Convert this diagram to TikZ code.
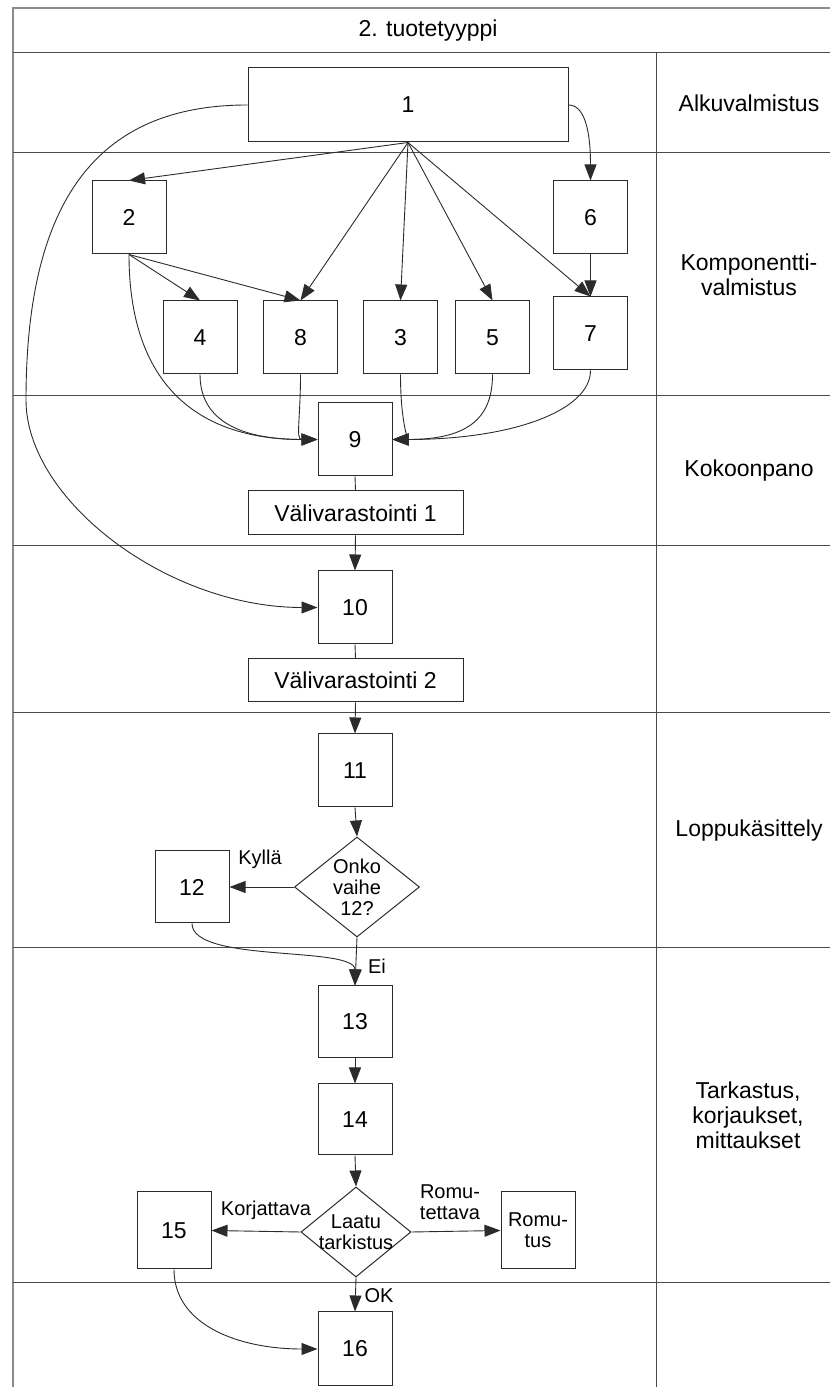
\documentclass[tikz,border=0pt]{standalone}
\usepackage{fontspec}
\setmainfont{Liberation Sans}
\usetikzlibrary{arrows.meta,shapes.geometric}

\definecolor{framegray}{HTML}{8C8C8C}
\definecolor{rulegray}{HTML}{4A4A4A}
\definecolor{ink}{HTML}{2B2B2B}

\begin{document}
\begin{tikzpicture}[x=1pt,y=1pt,
  stepbox/.style={draw=ink, fill=white, line width=1pt, minimum width=74pt,
    minimum height=73pt, inner sep=0pt, font=\fontsize{23}{26}\selectfont},
  widebox/.style={stepbox, minimum width=215pt, minimum height=44pt},
  decision/.style={diamond, draw=ink, fill=white, line width=1pt, inner sep=0pt},
  lanelabel/.style={font=\fontsize{23}{25}\selectfont, align=center, inner sep=0pt},
  small/.style={font=\fontsize{20}{21}\selectfont, align=center, inner sep=0pt},
  flow/.style={draw=ink, line width=0.9pt, -{Triangle[length=16pt,width=12pt]}},
  link/.style={draw=ink, line width=0.9pt},
]
\useasboundingbox (0,0) rectangle (830,1387);

% swimlane grid
\draw[framegray, line width=1.3pt] (830,1379) -- (13,1379) -- (13,0);
\foreach \y in {1334,1234,991,841,674,439,104}
  \draw[rulegray, line width=1pt] (13,\y) -- (830,\y);
\draw[rulegray, line width=1pt] (656,1334) -- (656,0);

% lane titles
\node[lanelabel] (title) at (428,1356.5) {2. tuotetyyppi};
\node[lanelabel] (lane1) at (749,1284) {Alkuvalmistus};
\node[lanelabel] (lane2) at (749,1112.5) {Komponentti-\\valmistus};
\node[lanelabel] (lane3) at (749,916) {Kokoonpano};
\node[lanelabel] (lane5) at (749,556.5) {Loppukäsittely};
\node[lanelabel] (lane6) at (748,271.5) {Tarkastus,\\korjaukset,\\mittaukset};

% process steps
\node[stepbox, minimum width=320pt, minimum height=74pt] (n1) at (408,1282) {1};
\node[stepbox] (n2) at (129,1169.5) {2};
\node[stepbox] (n6) at (590.5,1169.5) {6};
\node[stepbox] (n4) at (200,1049.5) {4};
\node[stepbox] (n8) at (300.5,1049.5) {8};
\node[stepbox] (n3) at (400.5,1049.5) {3};
\node[stepbox] (n5) at (492.5,1049.5) {5};
\node[stepbox] (n7) at (590.5,1053.5) {7};
\node[stepbox] (n9) at (355,947.5) {9};
\node[widebox] (v1) at (355.5,874) {Välivarastointi 1};
\node[stepbox] (n10) at (355,779.5) {10};
\node[widebox, minimum height=43pt] (v2) at (355.5,706.5) {Välivarastointi 2};
\node[stepbox] (n11) at (355,616.5) {11};
\node[decision, minimum width=125pt, minimum height=100pt,
  label={[small]center:{Onko\\vaihe\\12?}}] (d1) at (357,500) {};
\node[stepbox, minimum height=72pt] (n12) at (192,500) {12};
\node[stepbox, minimum height=72pt] (n13) at (355,365) {13};
\node[stepbox, minimum height=71pt] (n14) at (355,267.5) {14};
\node[decision, minimum width=110pt, minimum height=90pt,
  label={[small]center:{Laatu\\tarkistus}}] (d2) at (356,155) {};
\node[stepbox, minimum height=77pt] (n15) at (174,156.5) {15};
\node[stepbox, minimum height=77pt, font=\fontsize{20}{21}\selectfont, align=center] (scrap) at (538,156.5) {Romu-\\tus};
\node[stepbox, minimum height=74pt] (n16) at (355,38) {16};

% edge labels
\node[small] (lblyes) at (260,528) {Kyllä};
\node[small] (lblno) at (377,421) {Ei};
\node[small] (lblfix) at (266,177) {Korjattava};
\node[small] (lblscrap) at (450,185) {Romu-\\tettava};
\node[small] (lblok) at (379,91) {OK};

% component manufacturing
\draw[flow] (n1.south) -- (n2.north);
\draw[flow] (n1.south) -- (n8.north);
\draw[flow] (n1.south) -- (n3.north);
\draw[flow] (n1.south) -- (n5.north);
\draw[flow] (n1.south) -- (n7.north);
\draw[flow] (n1.east) .. controls +(16,0) and +(0,50) .. (n6.north);
\draw[flow] (n6.south) -- (n7.north);
\draw[flow] (n2.south) -- (n4.north);
\draw[flow] (n2.south) -- (n8.north);

% assembly
\draw[flow] (n2.south) .. controls +(0,-130) and +(-120,0) .. (n9.west);
\draw[flow] (n4.south) .. controls +(0,-50) and +(-70,0) .. (n9.west);
\draw[flow] (n8.south) .. controls +(0,-45) and +(-22,0) .. (n9.west);
\draw[flow] (n3.south) .. controls +(0,-45) and +(15,0) .. (n9.east);
\draw[flow] (n5.south) .. controls +(0,-40) and +(80,0) .. (n9.east);
\draw[flow] (n7.south) .. controls +(0,-40) and +(120,0) .. (n9.east);
\draw[link] (n9.south) -- (v1.north);
\draw[flow] (v1.south) -- (n10.north);

% bypass from the first step straight to step 10
\coordinate (bend) at (26,987);
\draw[flow] (n1.west) .. controls +(-150,0) and +(0,200) .. (bend)
  .. controls +(0,-100) and +(-150,0) .. (n10.west);

\draw[link] (n10.south) -- (v2.north);
\draw[flow] (v2.south) -- (n11.north);

% finishing
\draw[flow] (n11.south) -- (d1.north);
\draw[flow] (d1.west) -- (n12.east);
\draw[flow] (d1.south) -- (n13.north);
\draw[flow] (n12.south) .. controls +(0,-40) and +(0,40) .. (n13.north);

% inspection
\draw[flow] (n13.south) -- (n14.north);
\draw[flow] (n14.south) -- (d2.north);
\draw[flow] (d2.west) -- (n15.east);
\draw[flow] (d2.east) -- (scrap.west);
\draw[flow] (d2.south) -- (n16.north);
\draw[flow] (n15.south) .. controls +(0,-55) and +(-80,0) .. (n16.west);
\end{tikzpicture}
\end{document}
